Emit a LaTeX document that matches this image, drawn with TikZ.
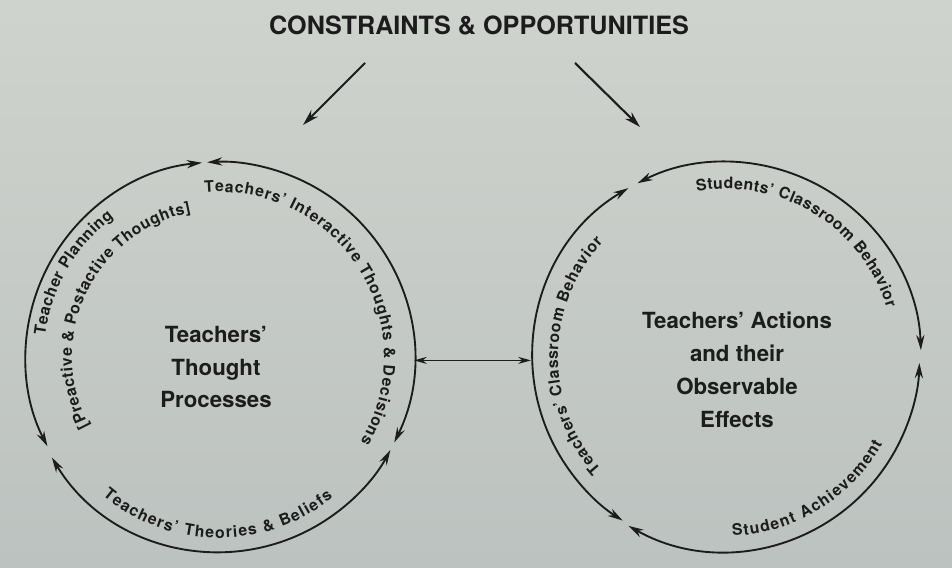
\documentclass[tikz,border=0pt]{standalone}
\usepackage{fontspec}
\setmainfont{TeX Gyre Heros}
\usetikzlibrary{arrows.meta,decorations.text,positioning}
\definecolor{PageTop}{HTML}{CFD3CE}
\definecolor{PageLow}{HTML}{BCC2BF}
\definecolor{InkBlack}{HTML}{1C1C1C}
\newcommand{\arcfont}{\fontsize{13.5}{15}\selectfont\bfseries}
\tikzset{
  ring/.style={circle,minimum size=11.7cm,inner sep=0pt,outer sep=0pt},
  rim/.style={{Stealth[length=13pt,width=7pt]}-{Stealth[length=13pt,width=7pt]},line width=1.6pt,draw=InkBlack},
  link/.style={{Stealth[length=11pt,width=6pt]}-{Stealth[length=11pt,width=6pt]},line width=1.2pt,draw=InkBlack},
  push/.style={-{Stealth[length=14pt,width=8pt]},line width=1.8pt,draw=InkBlack},
  core/.style={font=\fontsize{19}{28}\selectfont\bfseries,align=center,text=InkBlack},
  heading/.style={font=\fontsize{21.5}{25}\selectfont\bfseries,text=InkBlack}
}
% curved label: ring node, start angle, end angle, baseline radius, text
\newcommand{\arclabel}[5]{%
  \path[decorate,decoration={text along path,text color=InkBlack,
    text={|\arcfont|#5},text align={fit to path}}]
    ([shift={(#2:#4)}]#1.center) arc[start angle=#2,end angle=#3,radius=#4];}

\begin{document}
\begin{tikzpicture}[x=0.03cm,y=0.03cm]
  \shade[top color=PageTop,bottom color=PageLow] (0,0) rectangle (952,568);
  \useasboundingbox (0,0) rectangle (952,568);

  \node[heading] (title) at (479,543) {CONSTRAINTS \& OPPORTUNITIES};
  \coordinate (leftfrom) at (365,505);
  \coordinate (leftto) at (303,443);
  \coordinate (rightfrom) at (575,505);
  \coordinate (rightto) at (640,441);
  \draw[push] (leftfrom) -- (leftto);
  \draw[push] (rightfrom) -- (rightto);

  % thought processes
  \node[ring] (thought) at (219,211) {};
  \node[core] (thoughttext) at (216,201) {Teachers'\\Thought\\Processes};
  \draw[rim] (thought.95.5) arc[start angle=95.5,end angle=207.3,radius=195];
  \draw[rim] (thought.-26) arc[start angle=-26,end angle=93.5,radius=195];
  \draw[rim] (thought.211) arc[start angle=211,end angle=331.5,radius=195];
  \arclabel{thought}{95}{-31}{165}{Teachers' Interactive Thoughts {\&} Decisions}
  \arclabel{thought}{173}{127}{175}{Teacher Planning}
  \arclabel{thought}{208}{101}{147}{[Preactive {\&} Postactive Thoughts]}
  \arclabel{thought}{230}{309}{181}{Teachers' Theories {\&} Beliefs}

  % actions and effects
  \node[ring] (actions) at (726,211) {};
  \node[core] (actionstext) at (737,198) {Teachers' Actions\\and their\\Observable\\Effects};
  \draw[rim] (actions.2) arc[start angle=2,end angle=117,radius=195];
  \draw[rim] (actions.120.5) arc[start angle=120.5,end angle=237.5,radius=195];
  \draw[rim] (actions.240.5) arc[start angle=240.5,end angle=358,radius=195];
  \arclabel{actions}{100}{17}{168}{Students' Classroom Behavior}
  \arclabel{actions}{222}{137}{168}{Teachers' Classroom Behavior}
  \arclabel{actions}{272}{331}{179}{Student Achievement}

  \draw[link] (thought.-1.5) -- (actions.181.5);
\end{tikzpicture}
\end{document}
